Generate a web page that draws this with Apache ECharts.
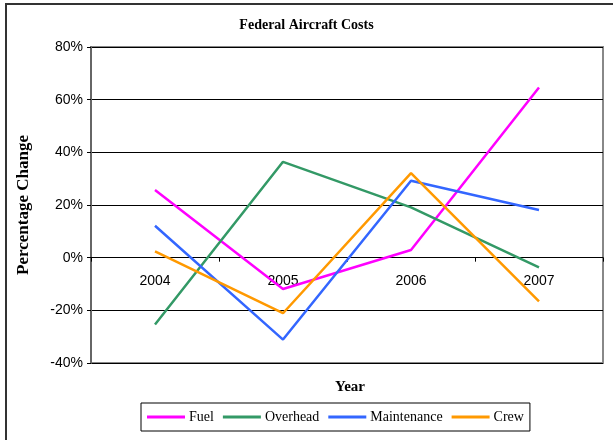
<!DOCTYPE html>
<html>
<head>
<meta charset="utf-8">
<script src="https://cdn.jsdelivr.net/npm/echarts@6/dist/echarts.min.js"></script>
<style>
html,body{margin:0;padding:0;background:#fff;}
#chart{width:613px;height:440px;}
</style>
</head>
<body>
<div id="chart"></div>
<script>
const categories = ['2004', '2005', '2006', '2007'];
const fuel = [25.7, -11.9, 2.9, 64.6];
const overhead = [-25.4, 36.4, 19.1, -3.7];
const maintenance = [12.1, -31.1, 29.2, 18.1];
const crew = [2.4, -21.1, 32.1, -16.6];
const yTicks = [-40, -20, 0, 20, 40, 60, 80];

const serif = '"Liberation Serif", "Times New Roman", serif';
const sans = '"Liberation Sans", Arial, sans-serif';

const chart = echarts.init(document.getElementById('chart'), null, {renderer: 'canvas'});

function mk(name, data, color) {
  return {
    name: name, type: 'line', data: data, symbol: 'none',
    lineStyle: {color: color, width: 2.5}, itemStyle: {color: color},
    z: 5, animation: false
  };
}

const frame = {type: 'rect', shape: {x: 6, y: 4, width: 620, height: 450},
   style: {fill: 'none', stroke: '#333', lineWidth: 2}, z: 0, silent: true};

chart.setOption({
  animation: false,
  backgroundColor: '#fff',
  title: [
    {text: 'Federal Aircraft Costs', left: 'center', top: 13,
     textStyle: {fontFamily: serif, fontSize: 14, fontWeight: 'bold', color: '#000'}},
    {text: 'Year', left: 345, top: 375, textAlign: 'center',
     textStyle: {fontFamily: serif, fontSize: 15, fontWeight: 'bold', color: '#000'}}
  ],
  graphic: [frame],
  grid: {left: 91, right: 10, top: 47, bottom: 77, show: true,
         borderColor: '#888', borderWidth: 2, backgroundColor: '#fff'},
  legend: {
    data: ['Fuel', 'Overhead', 'Maintenance', 'Crew'],
    left: 141, top: 403, orient: 'horizontal',
    padding: [7, 6, 7, 6], itemGap: 9, itemWidth: 38, itemHeight: 3,
    icon: 'rect',
    borderColor: '#000', borderWidth: 1, backgroundColor: '#fff',
    textStyle: {fontFamily: serif, fontSize: 14, color: '#000', padding: [0, 0, 0, -1]}
  },
  xAxis: {
    type: 'category', data: categories, boundaryGap: true,
    axisLine: {onZero: true, lineStyle: {color: '#000', width: 1}},
    axisTick: {show: true, inside: false, length: 4, alignWithLabel: false, lineStyle: {color: '#000'}},
    axisLabel: {show: false},
    splitLine: {show: false}
  },
  yAxis: {
    type: 'value', min: -40, max: 80, interval: 20,
    name: 'Percentage Change', nameLocation: 'middle', nameRotate: 90, nameGap: 59,
    nameTextStyle: {fontFamily: serif, fontSize: 17, fontWeight: 'bold', color: '#000'},
    axisLine: {show: true, lineStyle: {color: '#666', width: 2}},
    axisTick: {show: true, length: 4, lineStyle: {color: '#000'}},
    axisLabel: {fontFamily: sans, fontSize: 14, color: '#000', margin: 8,
      formatter: function (v) { return yTicks.indexOf(v) >= 0 ? v + '%' : ''; }},
    splitLine: {show: true, lineStyle: {color: '#000', width: 1}}
  },
  series: [
    mk('Fuel', fuel, '#FF00FF'),
    mk('Overhead', overhead, '#339966'),
    mk('Maintenance', maintenance, '#3366FF'),
    mk('Crew', crew, '#FF9900')
  ]
});

// Category labels placed just below the zero line, positioned via the chart's own scales
const labelGraphics = categories.map(function (c) {
  const p = chart.convertToPixel({gridIndex: 0}, [c, 0]);
  return {
    type: 'text', x: p[0], y: p[1] + 16, silent: true, z: 1,
    style: {text: c, fontFamily: sans, fontSize: 14, fill: '#000',
            align: 'center', verticalAlign: 'top'}
  };
});
chart.setOption({graphic: [frame].concat(labelGraphics)});
</script>
</body>
</html>
